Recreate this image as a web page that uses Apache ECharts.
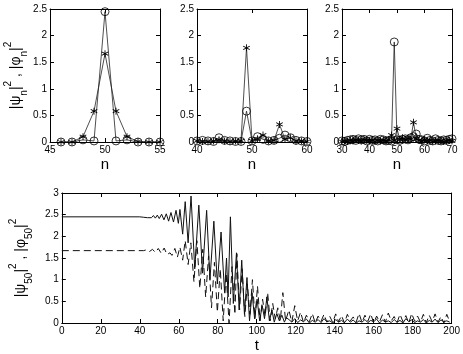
<!DOCTYPE html>
<html>
<head>
<meta charset="utf-8">
<script src="https://cdn.jsdelivr.net/npm/echarts@6/dist/echarts.min.js"></script>
<style>
html, body { margin: 0; padding: 0; background: #fff; }
#chart { width: 463px; height: 354px; }
</style>
</head>
<body>
<div id="chart"></div>
<script>
// panel 1: n = 46..55
var n1 = [46, 47, 48, 49, 50, 51, 52, 53, 54, 55];
var psi1 = [0, 0, 0.04, 0.02, 2.45, 0.02, 0.04, 0, 0, 0];
var phi1 = [0, 0, 0.1, 0.58, 1.66, 0.58, 0.1, 0.01, 0, 0];

// panel 2: n = 40..60
var n2 = [40, 41, 42, 43, 44, 45, 46, 47, 48, 49, 50, 51, 52, 53, 54, 55, 56, 57, 58, 59, 60];
var psi2 = [0.02, 0.03, 0.02, 0.01, 0.08, 0.03, 0.02, 0.01, 0.01, 0.58, 0.02, 0.1, 0.05, 0.02, 0.03, 0.07, 0.13, 0.08, 0.03, 0.02, 0.01];
var phi2 = [0.02, 0.01, 0.01, 0.02, 0.04, 0.02, 0.01, 0.02, 0.02, 1.77, 0.02, 0.06, 0.13, 0.02, 0.03, 0.33, 0.05, 0.08, 0.02, 0.02, 0.01];

// panel 3: n = 30..70
var n3 = [30, 31, 32, 33, 34, 35, 36, 37, 38, 39, 40, 41, 42, 43, 44, 45, 46, 47, 48, 49, 50,
          51, 52, 53, 54, 55, 56, 57, 58, 59, 60, 61, 62, 63, 64, 65, 66, 67, 68, 69, 70];
var psi3 = [0.02, 0.01, 0.03, 0.04, 0.05, 0.03, 0.06, 0.04, 0.05, 0.02, 0.05, 0.03, 0.04, 0.02, 0.05, 0.04, 0.02, 0.03, 0.02, 1.88, 0.04,
            0.03, 0.05, 0.06, 0.04, 0.08, 0.1, 0.15, 0.05, 0.04, 0.02, 0.07, 0.03, 0.02, 0.06, 0.03, 0.02, 0.04, 0.03, 0.05, 0.06];
var phi3 = [0.01, 0.02, 0.01, 0.03, 0.02, 0.04, 0.03, 0.02, 0.04, 0.03, 0.02, 0.03, 0.01, 0.03, 0.02, 0.03, 0.02, 0.04, 0.13, 0.03, 0.25,
            0.05, 0.08, 0.04, 0.07, 0.05, 0.37, 0.06, 0.03, 0.02, 0.04, 0.02, 0.03, 0.01, 0.02, 0.03, 0.02, 0.01, 0.02, 0.03, 0.02];

// bottom panel, |psi_50|^2 (solid): turning points
var psiT = [0, 40, 41, 42, 43, 44, 45, 46, 47, 48, 49, 50, 51.2, 52.4, 53.6, 54.8, 56, 57.3, 58.6, 59.8,
  60.6, 62, 63.3, 64.8, 66.3, 68.2, 70.3, 72.2, 74.3, 76, 78, 79.8, 81.7, 83.5, 84.5, 85.3, 86.5, 88,
  89.6, 91, 92.3, 93.7, 95, 96.3, 97.6, 98.9, 100.2, 101.5, 102.8, 104, 105.2, 106.5, 107.8, 109,
  110.3, 111.6, 112.9, 114.2, 115.2];
var psiV = [2.45, 2.45, 2.465, 2.44, 2.47, 2.43, 2.475, 2.43, 2.48, 2.42, 2.49, 2.41, 2.51, 2.38, 2.52, 2.35, 2.55, 2.33, 2.6, 2.3,
  2.62, 2.05, 2.8, 1.85, 2.93, 1.25, 2.72, 1.15, 2.6, 1.0, 2.35, 0.9, 2.1, 0.7, 1.5, 0.6, 2.45, 0.45,
  1.62, 0.3, 1.45, 0.2, 1.05, 0.05, 0.7, 0.1, 0.55, 0.05, 0.4, 0.1, 0.6, 0.05, 0.3, 0.02,
  0.22, 0.05, 0.18, 0.02, 0.12];

// bottom panel, |phi_50|^2 (dashed)
var phiT = [0, 42, 43.5, 45, 46.5, 48, 49.5, 51, 52.5, 54, 55.5, 56.5, 58, 59.3, 60.6, 62, 63.3, 64.8,
  66.2, 67.8, 69.3, 70.8, 72.3, 73.8, 75.3, 76.8, 78.3, 79.8, 81.3, 82.8, 84.3, 85.8, 87.3, 88.8,
  89.8, 91.2, 92.5, 93.9, 95.2, 96.5, 97.8, 99.1, 100.4, 101.7, 103, 104.3, 105.6, 106.9, 108.2,
  109.5, 110.8, 112.1, 113.4, 114.8];
var phiV = [1.67, 1.67, 1.69, 1.65, 1.70, 1.63, 1.72, 1.61, 1.73, 1.58, 1.62, 1.56, 1.72, 1.52, 1.75, 1.45, 1.9, 1.35,
  1.85, 0.95, 1.9, 0.8, 1.7, 0.6, 1.55, 0.35, 1.4, 0.25, 1.25, 0.05, 1.15, 0.0, 1.3, 0.2,
  1.6, 0.3, 1.25, 0.15, 0.9, 0.2, 1.0, 0.1, 0.85, 0.05, 0.55, 0.15, 0.7, 0.05, 0.45,
  0.1, 0.35, 0.05, 0.7, 0.05];

// low-level tail after t = 116, shared times
var tailT = [116.5, 118, 119.5, 121, 122.5, 124, 125.5, 127, 128.5, 130, 131.5, 133, 134.5, 136, 137.5, 139,
  140.5, 142, 143.5, 145, 146.5, 148, 149.5, 151, 152.5, 154, 155.5, 157, 158.5, 160, 161.5, 163,
  164.5, 166, 167.5, 169, 170.5, 172, 173.5, 175, 176.5, 178, 179.5, 181, 182.5, 184, 185.5, 187,
  188.5, 190, 191.5, 193, 194.5, 196, 197.5, 199];
var psiTail = [0.08, 0.02, 0.1, 0.01, 0.07, 0.03, 0.09, 0.0, 0.06, 0.02, 0.08, 0.01, 0.1, 0.03, 0.05, 0.0,
  0.08, 0.02, 0.06, 0.01, 0.09, 0.02, 0.07, 0.0, 0.05, 0.02, 0.08, 0.01, 0.06, 0.03, 0.09, 0.0,
  0.07, 0.02, 0.05, 0.01, 0.08, 0.02, 0.06, 0.0, 0.1, 0.03, 0.07, 0.01, 0.05, 0.02, 0.08, 0.0,
  0.06, 0.02, 0.09, 0.01, 0.07, 0.03, 0.05, 0.02];
var phiTail = [0.3, 0.02, 0.4, 0.05, 0.25, 0.01, 0.18, 0.03, 0.22, 0.0, 0.16, 0.04, 0.2, 0.02, 0.15, 0.01,
  0.21, 0.03, 0.17, 0.0, 0.2, 0.05, 0.14, 0.02, 0.22, 0.01, 0.18, 0.04, 0.21, 0.0, 0.16, 0.03,
  0.19, 0.02, 0.23, 0.05, 0.15, 0.01, 0.2, 0.03, 0.17, 0.0, 0.22, 0.04, 0.16, 0.02, 0.2, 0.01,
  0.18, 0.03, 0.21, 0.02, 0.15, 0.0, 0.2, 0.03];

var FONT = 'Liberation Sans';
// asterisk marker, three filled bars
var STAR = 'path://M-0.9,-8L0.9,-8L0.9,8L-0.9,8Z' +
  'M-7.38,-3.22L-6.48,-4.78L7.38,3.22L6.48,4.78Z' +
  'M6.48,-4.78L7.38,-3.22L-6.48,4.78L-7.38,3.22Z';

function pairs(xs, ys) {
  return xs.map(function (x, i) { return [x, ys[i]]; });
}

var chart = echarts.init(document.getElementById('chart'), null, { renderer: 'canvas' });

var grids = [
  { left: 50, top: 9, width: 110, height: 133 },
  { left: 197, top: 9, width: 110, height: 133 },
  { left: 342, top: 9, width: 110, height: 133 },
  { left: 50, top: 193, width: 402, height: 133 }
];
var xr = [[45, 55, 5], [40, 60, 10], [30, 70, 10], [0, 200, 20]];
var yr = [[0, 2.5, 0.5], [0, 2.5, 0.5], [0, 2.5, 0.5], [0, 3, 0.5]];

var rich = {
  a: { fontSize: 14, fontFamily: FONT, color: '#000', lineHeight: 26 },
  s: { fontSize: 10, fontFamily: FONT, color: '#000', verticalAlign: 'bottom', lineHeight: 26 },
  p: { fontSize: 10, fontFamily: FONT, color: '#000', verticalAlign: 'top', lineHeight: 26 }
};

var xAxis = [], yAxis = [];
grids.forEach(function (g, i) {
  [false, true].forEach(function (mirror) {
    xAxis.push({
      type: 'value', gridIndex: i, min: xr[i][0], max: xr[i][1], interval: xr[i][2],
      position: mirror ? 'top' : 'bottom',
      name: mirror ? '' : (i === 3 ? 't' : 'n'),
      nameLocation: 'middle', nameGap: 15,
      nameTextStyle: { fontSize: 15, fontFamily: FONT, color: '#000' },
      axisLine: { show: true, onZero: false, lineStyle: { color: '#000', width: 1 } },
      axisTick: { show: true, inside: true, length: 4, lineStyle: { color: '#000' } },
      axisLabel: { show: !mirror, fontSize: 10, fontFamily: FONT, color: '#000', margin: 3 },
      splitLine: { show: false }
    });
    yAxis.push({
      type: 'value', gridIndex: i, min: yr[i][0], max: yr[i][1], interval: yr[i][2],
      position: mirror ? 'right' : 'left',
      axisLine: { show: true, onZero: false, lineStyle: { color: '#000', width: 1 } },
      axisTick: { show: true, inside: true, length: 4, lineStyle: { color: '#000' } },
      axisLabel: { show: !mirror, fontSize: 10, fontFamily: FONT, color: '#000', margin: 3 },
      splitLine: { show: false }
    });
  });
});
yAxis[0].name = '{a||ψ}{s|n}{a||}{p|2}{a| , |φ}{s|n}{a||}{p|2}';
yAxis[0].nameLocation = 'middle';
yAxis[0].nameGap = 20;
yAxis[0].nameTextStyle = { rich: rich };
yAxis[6].name = '{a||ψ}{s|50}{a||}{p|2}{a| , |φ}{s|50}{a||}{p|2}';
yAxis[6].nameLocation = 'middle';
yAxis[6].nameGap = 20;
yAxis[6].nameTextStyle = { rich: rich };

function markSeries(idx, xs, ys, symbol, size, fill) {
  return {
    type: 'line', xAxisIndex: idx * 2, yAxisIndex: idx * 2,
    data: pairs(xs, ys), symbol: symbol, symbolSize: size, showSymbol: true,
    lineStyle: { color: '#222', width: 0.8 },
    itemStyle: { color: fill, borderColor: '#000', borderWidth: fill === '#000' ? 0 : 0.8 },
    silent: true
  };
}

var ring = 'rgba(0,0,0,0)';
var series = [
  markSeries(0, n1, psi1, 'circle', 8, ring),
  markSeries(0, n1, phi1, STAR, 7, '#000'),
  markSeries(1, n2, psi2, 'circle', 8, ring),
  markSeries(1, n2, phi2, STAR, 7, '#000'),
  markSeries(2, n3, psi3, 'circle', 8, ring),
  markSeries(2, n3, phi3, STAR, 7, '#000'),
  {
    type: 'line', xAxisIndex: 6, yAxisIndex: 6,
    data: pairs(psiT, psiV).concat(pairs(tailT, psiTail)),
    symbol: 'none', lineStyle: { color: '#111', width: 1 }, silent: true
  },
  {
    type: 'line', xAxisIndex: 6, yAxisIndex: 6,
    data: pairs(phiT, phiV).concat(pairs(tailT, phiTail)),
    symbol: 'none', lineStyle: { color: '#111', width: 1, type: [7, 4] }, silent: true
  }
];

chart.setOption({
  animation: false,
  backgroundColor: '#fff',
  grid: grids,
  xAxis: xAxis,
  yAxis: yAxis,
  series: series
});
</script>
</body>
</html>
